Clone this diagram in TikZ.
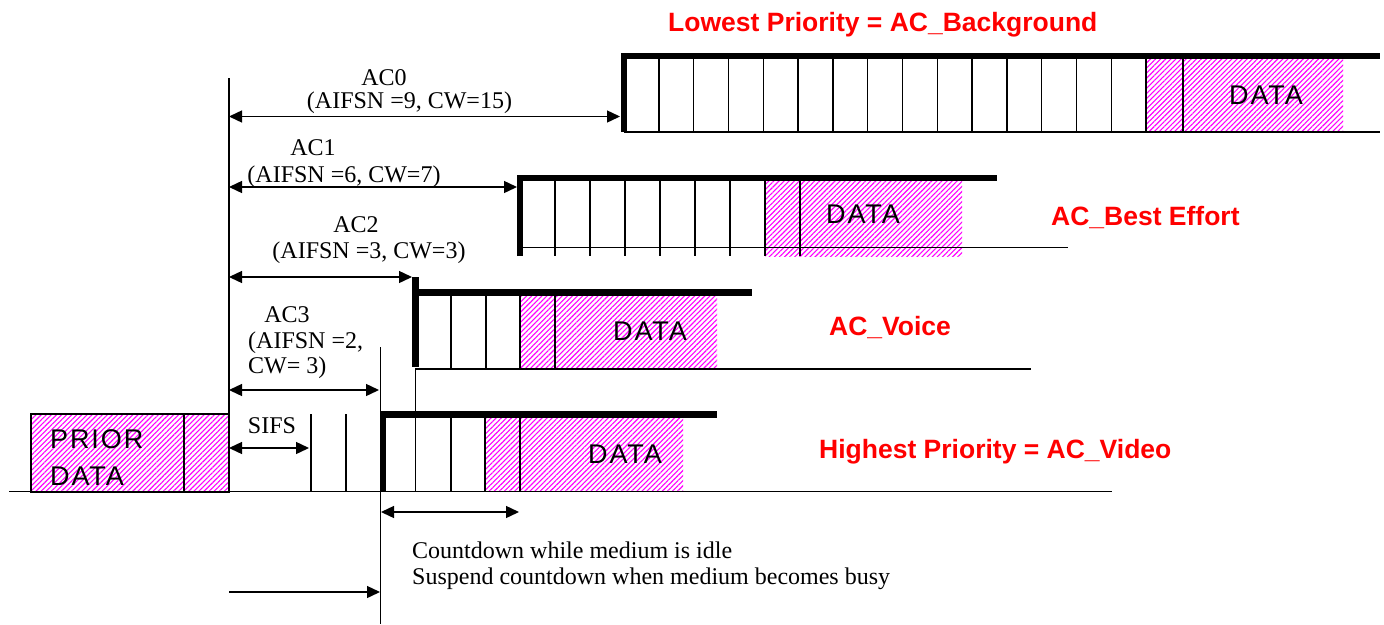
\documentclass[tikz,border=0pt]{standalone}
\usepackage{fontspec}
\setmainfont{Liberation Serif}
\newfontfamily\arialfont{Liberation Sans}
\newfontfamily\arialspaced[LetterSpace=7]{Liberation Sans}
\usetikzlibrary{patterns.meta,arrows.meta}
\begin{document}
\begin{tikzpicture}[x=1pt,y=-1pt,
  thinln/.style={line width=1.4pt},
  thickbar/.style={line width=6.5pt,line join=miter},
  arr/.style={line width=1.4pt,-{Triangle[length=13pt,width=12pt]}},
  darr/.style={line width=1.4pt,{Triangle[length=13pt,width=12pt]}-{Triangle[length=13pt,width=12pt]}},
  hatch/.style={pattern={Lines[angle=45,distance=3.6pt,line width=1.1pt]},pattern color=magenta},
  lbl/.style={font=\fontsize{24}{28}\selectfont,inner sep=0pt,anchor=base},
  redlbl/.style={font=\arialfont\bfseries\fontsize{26.5}{30}\selectfont,text=red,inner sep=0pt,anchor=base west},
  datalbl/.style={font=\arialspaced\fontsize{27}{30}\selectfont,inner sep=0pt,anchor=base}]
\useasboundingbox[fill=white] (0,0) rectangle (1384,624);

% ---------- hatched data areas ----------
\fill[hatch] (31,414) rectangle (229,492);
\fill[hatch] (1146,59) rectangle (1343,132);
\fill[hatch] (765,181) rectangle (962,256);
\fill[hatch] (520,296) rectangle (717,369);
\fill[hatch] (485,418) rectangle (683,491);

% ---------- medium line and reference lines ----------
\draw[thinln] (9,491.5) -- (1112,491.5);
\draw[thinln] (31,414) rectangle (229,492);
\draw[thinln] (184,414) -- (184,492);
\draw[thinln] (229,78) -- (229,491.5);
\draw[thinln] (311,414) -- (311,491.5);
\draw[thinln] (346,414) -- (346,491.5);
\draw[thinln] (380.5,347) -- (380.5,624);

% ---------- AC0 row ----------
\foreach \i in {1,...,15} \draw[thinln] ({624+34.8*\i},59) -- ({624+34.8*\i},132);
\draw[thinln] (1183,59) -- (1183,132);
\draw[thinln] (624,132) -- (1380,132);
\draw[thickbar] (624,132) -- (624,56) -- (1380,56);

% ---------- AC1 row ----------
\foreach \i in {1,...,7} \draw[thinln] ({520+35*\i},181) -- ({520+35*\i},256);
\draw[thinln] (800,181) -- (800,256);
\draw[thinln] (520,247.5) -- (1068,247.5);
\draw[thickbar] (520,256) -- (520,178) -- (997,178);

% ---------- AC2 row ----------
\foreach \x in {451,486,520,555} \draw[thinln] (\x,296) -- (\x,369);
\draw[thinln] (415,369) -- (1031,369);
\draw[thinln] (415.7,369) -- (415.7,491.5);
\draw[thickbar] (415,292.5) -- (752,292.5);
\draw[line width=7pt] (415,277) -- (415,367);

% ---------- AC3 row ----------
\foreach \x in {451,485,520} \draw[thinln] (\x,418) -- (\x,491.5);
\draw[thickbar] (383,491.5) -- (383,414.5) -- (717,414.5);

% ---------- arrows ----------
\coordinate (a0l) at (229,116.5); \coordinate (a0r) at (620,116.5);
\coordinate (a1l) at (229,187);   \coordinate (a1r) at (517,187);
\coordinate (a2l) at (229,277);   \coordinate (a2r) at (412,277);
\coordinate (a3l) at (229,390);   \coordinate (a3r) at (379,390);
\coordinate (sl)  at (229,448);   \coordinate (sr)  at (309,448);
\coordinate (cl)  at (381,512);   \coordinate (cr)  at (519,512);
\coordinate (bl)  at (229,592);   \coordinate (br)  at (380,592);
\draw[darr] (a0l) -- (a0r);
\draw[darr] (a1l) -- (a1r);
\draw[darr] (a2l) -- (a2r);
\draw[darr] (a3l) -- (a3r);
\draw[darr] (sl) -- (sr);
\draw[darr] (cl) -- (cr);
\draw[arr] (bl) -- (br);

% ---------- labels ----------
\node[lbl] (t0a) at (384,85) {AC0};
\node[lbl] (t0b) at (409.5,108) {(AIFSN =9, CW=15)};
\node[lbl] (t1a) at (313,155) {AC1};
\node[lbl] (t1b) at (344,182) {(AIFSN =6, CW=7)};
\node[lbl] (t2a) at (356,232) {AC2};
\node[lbl] (t2b) at (369,258) {(AIFSN =3, CW=3)};
\node[lbl] (t3a) at (287,322) {AC3};
\node[lbl,anchor=base west] (t3b) at (248,348) {(AIFSN =2,};
\node[lbl,anchor=base west] (t3c) at (248,373) {CW= 3)};
\node[lbl] (sifs) at (272,433) {SIFS};
\node[lbl,anchor=base west] (cd1) at (412,558) {Countdown while medium is idle};
\node[lbl,anchor=base west] (cd2) at (412,584) {Suspend countdown when medium becomes busy};

\node[redlbl] (r0) at (668,31) {Lowest Priority = AC\_Background};
\node[redlbl] (r1) at (1051,225) {AC\_Best Effort};
\node[redlbl] (r2) at (829,335) {AC\_Voice};
\node[redlbl] (r3) at (819,458) {Highest Priority = AC\_Video};

\node[datalbl] (d0) at (1266,104) {DATA};
\node[datalbl] (d1) at (863,223) {DATA};
\node[datalbl] (d2) at (650,340) {DATA};
\node[datalbl] (d3) at (625,463) {DATA};
\node[datalbl,anchor=base west] (p1) at (50,448) {PRIOR};
\node[datalbl,anchor=base west] (p2) at (50,485) {DATA};
\end{tikzpicture}
\end{document}
